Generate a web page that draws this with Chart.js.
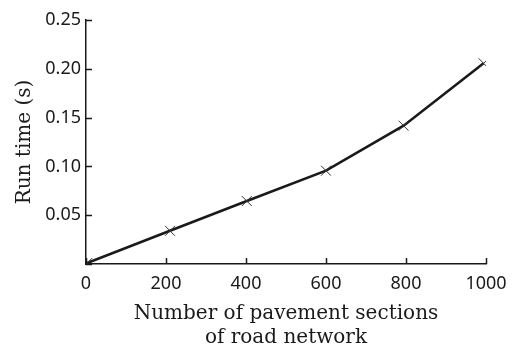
<!DOCTYPE html>
<html>
<head>
<meta charset="utf-8">
<script src="https://cdn.jsdelivr.net/npm/chart.js@4/dist/chart.umd.min.js"></script>
<style>
  html, body { margin: 0; padding: 0; background: #fff; }
  #wrap { width: 513px; height: 345px; }
</style>
</head>
<body>
<div id="wrap"><canvas id="c"></canvas></div>
<script>
// Run time against network size
const sections = [3, 210, 402, 600, 794, 994];
const runTimes = [0.001, 0.034, 0.0645, 0.0956, 0.1417, 0.2056];
const xTicks = [0, 200, 400, 600, 800, 1000];
const yTicks = [0, 0.05, 0.10, 0.15, 0.20, 0.25];

const ink = '#1a1a1a';
const tickFont = { family: "'Noto Sans', 'Open Sans', sans-serif", size: 18 };
const titleFont = { family: "'DejaVu Serif', serif", size: 20 };

// Short tick marks pointing into the plot area
const inwardTicks = {
  id: 'inwardTicks',
  afterDraw(chart) {
    const { ctx, chartArea } = chart;
    const { x, y } = chart.scales;
    const len = 6;
    ctx.save();
    ctx.strokeStyle = ink;
    ctx.lineWidth = 1.5;
    ctx.beginPath();
    xTicks.forEach(v => {
      const px = Math.round(x.getPixelForValue(v)) + 0.5;
      ctx.moveTo(px, chartArea.bottom);
      ctx.lineTo(px, chartArea.bottom - len);
    });
    yTicks.forEach(v => {
      const py = Math.round(y.getPixelForValue(v)) + 0.5;
      ctx.moveTo(chartArea.left, py);
      ctx.lineTo(chartArea.left + len, py);
    });
    ctx.stroke();
    ctx.restore();
  }
};

new Chart(document.getElementById('c'), {
  type: 'line',
  data: {
    datasets: [{
      data: sections.map((s, i) => ({ x: s, y: runTimes[i] })),
      borderColor: ink,
      borderWidth: 2.6,
      tension: 0,
      pointStyle: 'crossRot',
      pointRadius: 7,
      pointBorderWidth: 1,
      pointBorderColor: '#333',
      pointBackgroundColor: '#333'
    }]
  },
  options: {
    responsive: true,
    maintainAspectRatio: false,
    animation: false,
    layout: { padding: { top: 20, right: 27, left: 0, bottom: 0 } },
    plugins: { legend: { display: false }, tooltip: { enabled: false } },
    scales: {
      x: {
        type: 'linear',
        min: 0, max: 1000,
        afterBuildTicks: s => { s.ticks = xTicks.map(v => ({ value: v })); },
        afterFit: s => { s.height = 345 - 264; s.paddingLeft = 0; s.paddingRight = 0; },
        grid: { display: false, drawTicks: false, tickLength: 0 },
        border: { display: true, color: ink, width: 1.5 },
        ticks: { color: ink, font: tickFont, padding: 9, callback: v => String(v) },
        title: {
          display: true,
          text: ['Number of pavement sections', 'of road network'],
          color: ink, font: titleFont, padding: { top: 0, bottom: -5 }
        }
      },
      y: {
        min: 0, max: 0.25,
        afterBuildTicks: s => { s.ticks = yTicks.map(v => ({ value: v })); },
        afterFit: s => { s.width = 86; s.paddingTop = 0; s.paddingBottom = 0; },
        grid: { display: false, drawTicks: false, tickLength: 0 },
        border: { display: true, color: ink, width: 1.5 },
        ticks: {
          color: ink, font: tickFont, padding: 5,
          callback: v => v === 0 ? '' : v.toFixed(2)
        },
        title: {
          display: true, text: 'Run time (s)',
          color: ink, font: titleFont, padding: { top: 13, bottom: 0 }
        }
      }
    }
  },
  plugins: [inwardTicks]
});
</script>
</body>
</html>
